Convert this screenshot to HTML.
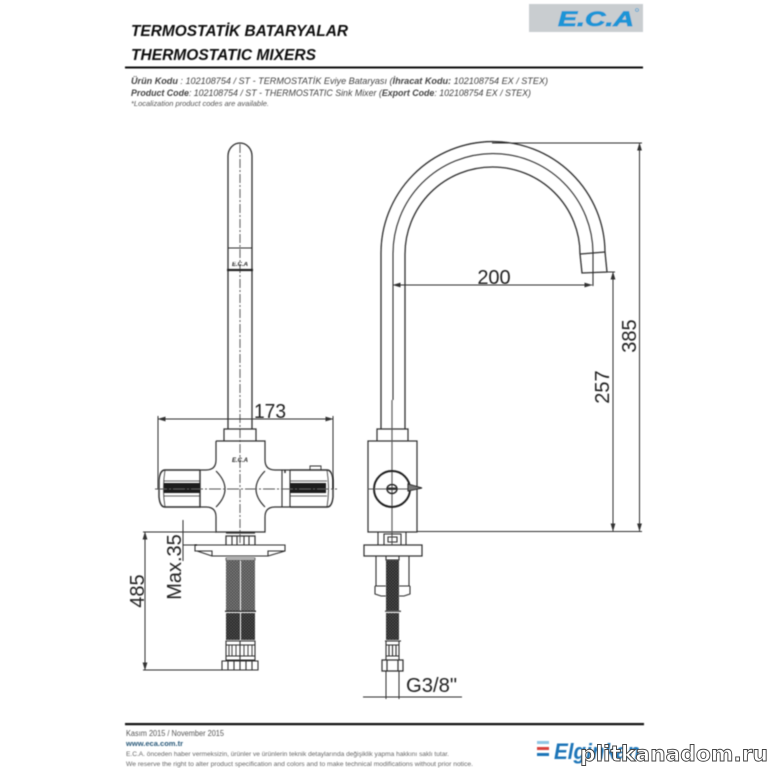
<!DOCTYPE html>
<html><head><meta charset="utf-8"><style>
html,body{margin:0;padding:0;background:#fff}
svg{display:block}
text{font-family:"Liberation Sans",sans-serif}
</style></head><body>
<svg width="768" height="768" viewBox="0 0 768 768" xmlns="http://www.w3.org/2000/svg">
<defs>
<filter id="b" x="-5%" y="-5%" width="110%" height="110%"><feGaussianBlur stdDeviation="0.4"/></filter>
<filter id="b2" x="-5%" y="-5%" width="110%" height="110%"><feGaussianBlur stdDeviation="0.55"/></filter>
<marker id="a" markerWidth="8" markerHeight="6" refX="7.5" refY="3" orient="auto-start-reverse" markerUnits="userSpaceOnUse"><path d="M0 .6L8 3L0 5.4z" fill="#333"/></marker>
<pattern id="m1" width="3" height="3" patternUnits="userSpaceOnUse"><rect width="3" height="3" fill="#444"/><path d="M0 0L3 3M3 0L0 3" stroke="#858585" stroke-width=".55"/></pattern>
<pattern id="m2" width="3" height="3" patternUnits="userSpaceOnUse"><rect width="3" height="3" fill="#262626"/><path d="M0 0L3 3M3 0L0 3" stroke="#555" stroke-width=".5"/></pattern>
</defs>
<rect width="768" height="768" fill="#fff"/>

<g filter="url(#b2)">
<text x="131" y="36" font-size="15.5" font-weight="bold" font-style="italic" fill="#111" textLength="217" lengthAdjust="spacingAndGlyphs">TERMOSTATİK BATARYALAR</text>
<text x="131" y="60" font-size="15.5" font-weight="bold" font-style="italic" fill="#111" textLength="185" lengthAdjust="spacingAndGlyphs">THERMOSTATIC MIXERS</text>
<rect x="125" y="66.5" width="518" height="2" fill="#111"/>
<text x="131" y="84" font-size="9.2" font-style="italic" fill="#444" textLength="417" lengthAdjust="spacingAndGlyphs"><tspan font-weight="bold">Ürün Kodu</tspan>     : 102108754 / ST - TERMOSTATİK Eviye Bataryası (<tspan font-weight="bold">İhracat Kodu:</tspan> 102108754 EX / STEX)</text>
<text x="131" y="96" font-size="9.2" font-style="italic" fill="#444" textLength="400" lengthAdjust="spacingAndGlyphs"><tspan font-weight="bold">Product Code</tspan>: 102108754 / ST - THERMOSTATIC Sink Mixer (<tspan font-weight="bold">Export Code</tspan>: 102108754 EX / STEX)</text>
<text x="131" y="106" font-size="7" font-style="italic" fill="#555" textLength="138" lengthAdjust="spacingAndGlyphs">*Localization product codes are available.</text>
<rect x="529" y="4" width="114" height="28" fill="#c9cdd0"/>
<text x="558" y="26" font-size="21" font-weight="bold" font-style="italic" fill="#1b95d6" stroke="#1b95d6" stroke-width=".8" textLength="76" lengthAdjust="spacingAndGlyphs">E.C.A</text>
<circle cx="637" cy="10" r="1.5" fill="none" stroke="#1b95d6" stroke-width=".6"/>
</g>

<g filter="url(#b)" fill="none" stroke="#2e2e2e" stroke-width="1.1">
<!-- LEFT VIEW -->
<path d="M228 429V156A12 13 0 0 1 252 156V429" stroke-width="1.3"/>
<path d="M240 144V545" stroke-dasharray="9 2 2 2" stroke="#666"/>
<path d="M228 248H252"/>
<path d="M227 270H253" stroke-width="2.2" stroke="#222"/>
<path d="M224 441V429H256V441" stroke-width="1.2"/>
<path d="M216 441H265V460Q265 470 275 470H290M290 507H275Q265 507 265 517V532H216V517Q216 507 206 507H200M200 470H206Q216 470 216 460V441" stroke-width="1.2"/>
<path d="M216 471Q225 480 225 489Q225 498 216 507M265 471Q256 480 256 489Q256 498 265 507" stroke-width="1.2"/>
<!-- left handle -->
<path d="M200 470H165Q160 470 159 480V497Q160 507 165 507H200V470" stroke-width="1.4"/>
<rect x="164" y="483" width="36" height="10" fill="#1c1c1c" stroke="none"/>
<path d="M164 481H200M164 496H200" stroke-width=".8"/>
<path d="M165 470Q162 489 165 507" stroke-width=".8"/>
<!-- right handle -->
<path d="M282 470V507M290 470V507" stroke-width="1.1"/>
<path d="M285 470V473" stroke-width="1.5"/>
<path d="M290 470H327Q332 470 333 480V497Q332 507 327 507H290" stroke-width="1.4"/>
<rect x="290" y="483" width="36" height="10" fill="#1c1c1c" stroke="none"/>
<path d="M290 481H327M290 496H327" stroke-width=".8"/>
<path d="M327 470Q330 489 327 507" stroke-width=".8"/>
<path d="M310 470V466H321V470" stroke-width=".9"/>
<path d="M155 489H337" stroke-dasharray="12 2 2 2" stroke="#555"/>
<!-- plate and connectors -->
<path d="M226 545V536H255V545M226 533H255" stroke-width="1.2"/>
<path d="M232 536V545M237 536V545M244 536V545M249 536V545"/>
<path d="M195 545H285V551H268L268 556H212V551H195Z" stroke-width="1.1"/>
<path d="M197 551L212 556M285 551L268 556" />
<path d="M226 558H255V560H226Z" stroke-width=".7"/>
</g>
<g filter="url(#b)">
<rect x="226" y="560" width="14" height="51" fill="url(#m1)"/>
<rect x="241" y="560" width="14" height="51" fill="url(#m1)"/>
<rect x="226" y="613" width="14" height="27" fill="url(#m2)"/>
<rect x="241" y="613" width="14" height="27" fill="url(#m2)"/>
<rect x="386" y="560" width="13" height="51" fill="url(#m2)"/>
<rect x="386" y="613" width="13" height="27" fill="url(#m2)"/>
<rect x="225" y="610.5" width="31" height="1.5" fill="#333"/>
<rect x="385" y="610.5" width="16" height="1.5" fill="#555"/>
</g>
<g filter="url(#b)" fill="none" stroke="#2e2e2e" stroke-width="1.1">
<path d="M226 641H255V660H226ZM240 641V660M226 645H255M226 656H255"/>
<path d="M229 645V656M232 645V656M236 645V656M244 645V656M248 645V656M252 645V656" stroke-width=".9"/>
<path d="M222 661H258V670H222ZM228 661V670M234 661V670M240 661V670M246 661V670M252 661V670"/>

<!-- left dimensions -->
<path d="M158 419H333" marker-start="url(#a)" marker-end="url(#a)" stroke-width="1"/>
<path d="M158 416V489M333 416V489" stroke-width="1"/>
<path d="M143 532H216M143 670H222" stroke-width="1"/>
<path d="M145 532V670" marker-start="url(#a)" marker-end="url(#a)" stroke-width="1"/>
<path d="M183 520V561M183 545H197" stroke-width="1"/>

<!-- RIGHT VIEW -->
<path d="M381 429V254A111.5 111 0 0 1 605 252L607 272L582 273L580 254A87.5 87 0 0 0 405 254V429" stroke-width="1.3"/>
<path d="M393 400V254A100 100 0 0 1 593 253V286"/>
<path d="M580.5 254L605 252" stroke-width="1.2"/>
<path d="M377 441V429H408V441" stroke-width="1.2"/>
<rect x="368" y="441" width="49" height="91" stroke-width="1.2"/>
<path d="M392 400V545" stroke="#555"/>
<path d="M368 489H374M410 489H417" stroke="#555"/>
<circle cx="392" cy="489" r="18" stroke-width="1.9" stroke="#1c1c1c"/>
<path d="M374 489H410" stroke="#555"/>
<ellipse cx="392" cy="489" rx="5" ry="4.5" stroke-width="1.4" stroke="#222"/>
<rect x="388" y="487.5" width="8" height="2.5" fill="#333" stroke="none"/>
<path d="M408 484L422 488L408 491Z" fill="#777" stroke="#222"/>
<path d="M378 532V545M406 532V545M384 534H401V545H384ZM388 537H397V542H388Z"/>
<rect x="364" y="545" width="58" height="11" stroke-width="1.2"/>
<path d="M376 556V586M409 556V586M386 556H399V560H386ZM375 586V594L381 596H386M410 586V594L404 596H399M375 586H386M399 586H410"/>
<path d="M386 641H399V660H386ZM386 645H399M386 656H399M389 645V656M392.5 645V656M396 645V656"/>
<path d="M385 641H401"/>
<path d="M382 660H403V671H382ZM387 660V671M398 660V671" stroke-width="1.2"/>
<path d="M386 671V699M399 671V699" stroke-width="1"/>
<path d="M363 697H462" stroke-width="1"/>

<!-- right dimensions -->
<path d="M417 531.5H642" stroke-width="1"/>
<path d="M492 143H642" stroke-width="1"/>
<path d="M639.5 143V531" marker-start="url(#a)" marker-end="url(#a)" stroke-width="1"/>
<path d="M607 272H615" stroke-width="1"/>
<path d="M613 272V531" marker-start="url(#a)" marker-end="url(#a)" stroke-width="1"/>
<path d="M393 285H592" marker-start="url(#a)" marker-end="url(#a)" stroke-width="1"/>
</g>

<g filter="url(#b)" fill="#222">
<text x="254" y="418" font-size="20" textLength="32" lengthAdjust="spacingAndGlyphs">173</text>
<text x="494" y="284" font-size="20" text-anchor="middle">200</text>
<text transform="translate(636 336) rotate(-90)" font-size="20" text-anchor="middle">385</text>
<text transform="translate(609 387) rotate(-90)" font-size="20" text-anchor="middle">257</text>
<text transform="translate(144 591) rotate(-90)" font-size="20" text-anchor="middle">485</text>
<text transform="translate(181 567) rotate(-90)" font-size="20" text-anchor="middle">Max.35</text>
<text x="406" y="692" font-size="20" textLength="51" lengthAdjust="spacingAndGlyphs">G3/8"</text>
<text x="240" y="462" font-size="6" font-weight="bold" font-style="italic" text-anchor="middle">E.C.A</text>
<text x="240" y="266" font-size="6" font-weight="bold" font-style="italic" text-anchor="middle">E.C.A</text>
</g>

<g filter="url(#b2)">
<rect x="125" y="723" width="519" height="2.2" fill="#111"/>
<text x="126" y="736" font-size="8" fill="#555" textLength="98" lengthAdjust="spacingAndGlyphs">Kasım 2015 / November 2015</text>
<text x="126" y="746" font-size="7.5" font-weight="bold" fill="#2b5a7a" textLength="57" lengthAdjust="spacingAndGlyphs">www.eca.com.tr</text>
<text x="126" y="756" font-size="6.5" fill="#666" textLength="323" lengthAdjust="spacingAndGlyphs">E.C.A. önceden haber vermeksizin, ürünler ve ürünlerin teknik detaylarında değişiklik yapma hakkını saklı tutar.</text>
<text x="126" y="766" font-size="6.5" fill="#666" textLength="347" lengthAdjust="spacingAndGlyphs">We reserve the right to alter product specification and colors and to make technical modifications without prior notice.</text>
<rect x="537" y="741" width="12" height="3" fill="#8fc6e4"/>
<rect x="537" y="747" width="12" height="3" fill="#d8433c"/>
<rect x="537" y="753" width="12" height="3" fill="#1d75b8"/>
<text x="554" y="759" font-size="22" font-weight="bold" font-style="italic" fill="#1d75b8" textLength="86" lengthAdjust="spacingAndGlyphs">Elginkan</text>
</g>
<text x="580" y="761" font-size="21" font-weight="bold" fill="#fff" stroke="#444" stroke-width=".9" style="font-family:'DejaVu Sans',sans-serif" textLength="188" lengthAdjust="spacingAndGlyphs">plitkanadom.ru</text>
</svg>
</body></html>
